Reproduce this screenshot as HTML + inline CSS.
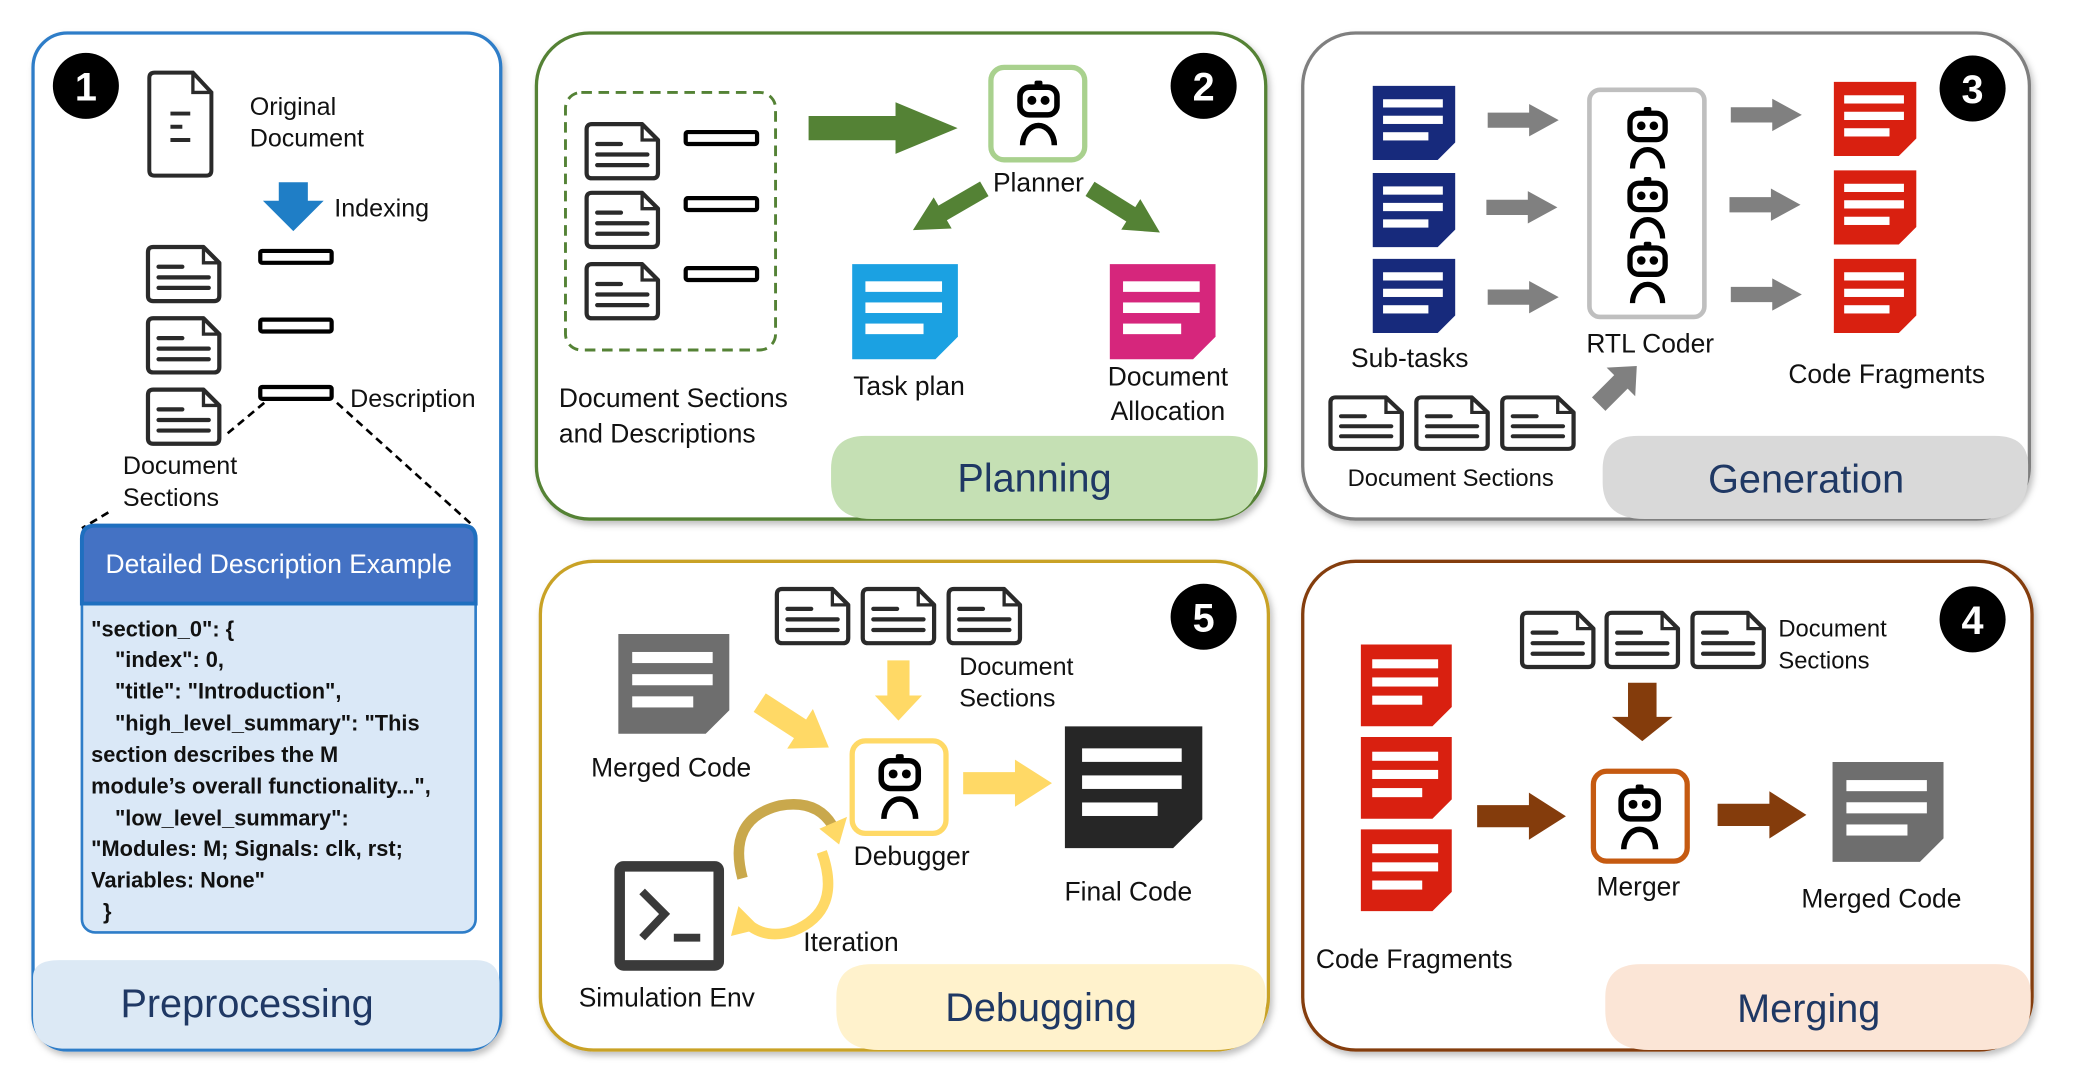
<!DOCTYPE html>
<html><head><meta charset="utf-8"><style>
html,body{margin:0;padding:0;background:#fff;width:2073px;height:1081px;overflow:hidden}
svg{display:block}
text{font-family:"Liberation Sans",sans-serif;fill:#111}
</style></head><body>
<svg width="2073" height="1081" viewBox="0 0 1569 818.5" preserveAspectRatio="none" xmlns="http://www.w3.org/2000/svg">
<defs>
<filter id="sh" x="-5%" y="-5%" width="110%" height="110%"><feDropShadow dx="2" dy="3" stdDeviation="2.5" flood-color="#000" flood-opacity="0.25"/></filter>
<g id="odoc"><path d="M6,2 H44 L56,14 V39 Q56,43 52,43 H6 Q2,43 2,39 V6 Q2,2 6,2 Z" fill="#fff" stroke="#2a2a2a" stroke-width="3.2" stroke-linejoin="round"/><path d="M44,2 V14 H56" fill="none" stroke="#2a2a2a" stroke-width="2.5"/><path d="M10,17 H28 M10,25 H48 M10,33 H48" stroke="#2a2a2a" stroke-width="3.2" stroke-linecap="round"/></g>
<g id="fdoc"><polygon points="0,0 80,0 80,55 63,72 0,72"/><rect x="10" y="13" width="58" height="8" fill="#fff"/><rect x="10" y="29" width="58" height="8" fill="#fff"/><rect x="10" y="45" width="44" height="8" fill="#fff"/></g>
<g id="robot"><rect x="17" y="0" width="6" height="5" rx="1.5" fill="#000"/><rect x="6" y="5" width="28" height="21" rx="7" fill="none" stroke="#000" stroke-width="4.2"/><circle cx="15" cy="15" r="3.4" fill="#000"/><circle cx="25" cy="15" r="3.4" fill="#000"/><path d="M8,49 A12,15 0 0 1 32,49" fill="none" stroke="#000" stroke-width="4.2"/></g>
<path id="arr" d="M0,-8 H28 V-17 L48,0 L28,17 V8 H0 Z"/>
<g id="bar"><rect x="0" y="0" width="54" height="9" rx="1.5" fill="#fff" stroke="#000" stroke-width="3.2"/></g>
</defs>

<!-- ===== Panel 1 ===== -->
<rect x="25" y="25" width="354" height="770" rx="26" fill="#fff" stroke="#2e7dc8" stroke-width="2.5" filter="url(#sh)"/>
<path d="M25,740 Q25,727 45,727 H360 Q378,727 378,745 V770 Q378,794 354,794 H50 Q25,794 25,770 Z" fill="#dce9f5"/>
<text x="187" y="770" font-size="30" text-anchor="middle" style="fill:#1f3864">Preprocessing</text>
<circle cx="65" cy="65" r="25" fill="#000"/><text x="65" y="76" font-size="30" font-weight="bold" text-anchor="middle" style="fill:#fff">1</text>
<path d="M117,55 H146 L160,70 V129 Q160,133 156,133 H117 Q113,133 113,129 V59 Q113,55 117,55 Z" fill="#fff" stroke="#2a2a2a" stroke-width="3"/>
<path d="M146,55 V70 H160" fill="none" stroke="#2a2a2a" stroke-width="2.5"/>
<path d="M129,86 H144 M129,96 H138 M129,106 H144" stroke="#2a2a2a" stroke-width="3"/>
<text x="189" y="87" font-size="19">Original</text><text x="189" y="111" font-size="19">Document</text>
<polygon points="211,138 233,138 233,152 245,152 222,175 199,152 211,152" fill="#1f7ec6"/>
<text x="253" y="164" font-size="19">Indexing</text>
<use href="#odoc" x="110" y="185"/><use href="#odoc" x="110" y="239"/><use href="#odoc" x="110" y="293"/>
<use href="#bar" x="197" y="190"/><use href="#bar" x="197" y="242"/><use href="#bar" x="197" y="293"/>
<text x="265" y="308" font-size="19">Description</text>
<text x="93" y="359" font-size="19">Document</text><text x="93" y="383" font-size="19">Sections</text>
<path d="M200,305 L170,330 M255,305 L358,398 M82,388 L62,400" stroke="#000" stroke-width="2" stroke-dasharray="6,4" fill="none"/>
<rect x="62" y="398" width="298" height="308" rx="10" fill="#dae8f7" stroke="#2e7dc8" stroke-width="2"/>
<path d="M62,457 V408 Q62,398 72,398 H350 Q360,398 360,408 V457 Z" fill="#4472c4" stroke="#1f6fbf" stroke-width="3"/>
<text x="211" y="434" font-size="20" text-anchor="middle" style="fill:#fff">Detailed Description Example</text>
<g font-size="16.5" font-weight="bold">
<text x="69" y="482">"section_0": {</text>
<text x="87" y="505">"index": 0,</text>
<text x="87" y="529">"title": "Introduction",</text>
<text x="87" y="553">"high_level_summary": "This</text>
<text x="69" y="577">section describes the M</text>
<text x="69" y="601">module’s overall functionality...",</text>
<text x="87" y="625">"low_level_summary":</text>
<text x="69" y="648">"Modules: M; Signals: clk, rst;</text>
<text x="69" y="672">Variables: None"</text>
<text x="78" y="696">}</text>
</g>

<!-- ===== Panel 2 ===== -->
<rect x="406" y="25" width="552" height="368" rx="40" fill="#fff" stroke="#548235" stroke-width="2.5" filter="url(#sh)"/>
<path d="M629,355 Q629,330 655,330 H930 Q952,330 952,350 V360 Q952,393 915,393 H660 Q629,393 629,365 Z" fill="#c5e0b4"/>
<text x="783" y="372" font-size="30" text-anchor="middle" style="fill:#1f3864">Planning</text>
<rect x="428" y="70" width="159" height="195" rx="12" fill="none" stroke="#548235" stroke-width="2.2" stroke-dasharray="8,5"/>
<use href="#odoc" x="442" y="92"/><use href="#odoc" x="442" y="144"/><use href="#odoc" x="442" y="198"/>
<use href="#bar" x="519" y="100"/><use href="#bar" x="519" y="150"/><use href="#bar" x="519" y="203"/>
<text x="423" y="308" font-size="20">Document Sections</text><text x="423" y="335" font-size="20">and Descriptions</text>
<use href="#arr" fill="#548235" transform="translate(612,97) scale(2.35,1.15)"/>
<rect x="750" y="51" width="71" height="70" rx="10" fill="#fff" stroke="#a9d18e" stroke-width="4"/>
<use href="#robot" transform="translate(766,61)"/>
<text x="786" y="145" font-size="20" text-anchor="middle">Planner</text>
<use href="#arr" fill="#548235" transform="translate(745,143) rotate(150) scale(1.3,0.8)"/>
<use href="#arr" fill="#548235" transform="translate(825,143) rotate(32) scale(1.3,0.8)"/>
<circle cx="911" cy="65" r="25" fill="#000"/><text x="911" y="76" font-size="30" font-weight="bold" text-anchor="middle" style="fill:#fff">2</text>
<use href="#fdoc" fill="#1ba1e2" x="645" y="200"/>
<use href="#fdoc" fill="#d6267c" x="840" y="200"/>
<text x="688" y="299" font-size="20" text-anchor="middle">Task plan</text>
<text x="884" y="292" font-size="20" text-anchor="middle">Document</text><text x="884" y="318" font-size="20" text-anchor="middle">Allocation</text>

<!-- ===== Panel 3 ===== -->
<rect x="986" y="25" width="550" height="368" rx="40" fill="#fff" stroke="#7f7f7f" stroke-width="2.5" filter="url(#sh)"/>
<path d="M1213,355 Q1213,330 1240,330 H1510 Q1535,330 1535,352 V360 Q1535,393 1500,393 H1245 Q1213,393 1213,365 Z" fill="#d9d9d9"/>
<text x="1367" y="373" font-size="30" text-anchor="middle" style="fill:#1f3864">Generation</text>
<use href="#fdoc" fill="#172a7c" transform="translate(1039,65) scale(0.78)"/>
<use href="#fdoc" fill="#172a7c" transform="translate(1039,131) scale(0.78)"/>
<use href="#fdoc" fill="#172a7c" transform="translate(1039,196) scale(0.78)"/>
<use href="#arr" fill="#808080" transform="translate(1126,91) scale(1.12,0.72)"/>
<use href="#arr" fill="#808080" transform="translate(1125,157) scale(1.12,0.72)"/>
<use href="#arr" fill="#808080" transform="translate(1126,225) scale(1.12,0.72)"/>
<rect x="1203" y="68" width="87" height="172" rx="8" fill="#fff" stroke="#bfbfbf" stroke-width="3.5"/>
<use href="#robot" transform="translate(1228,81) scale(0.95)"/>
<use href="#robot" transform="translate(1228,134) scale(0.95)"/>
<use href="#robot" transform="translate(1228,183) scale(0.95)"/>
<use href="#arr" fill="#808080" transform="translate(1310,87) scale(1.12,0.72)"/>
<use href="#arr" fill="#808080" transform="translate(1309,155) scale(1.12,0.72)"/>
<use href="#arr" fill="#808080" transform="translate(1310,223) scale(1.12,0.72)"/>
<use href="#fdoc" fill="#d92010" transform="translate(1388,62) scale(0.78)"/>
<use href="#fdoc" fill="#d92010" transform="translate(1388,129) scale(0.78)"/>
<use href="#fdoc" fill="#d92010" transform="translate(1388,196) scale(0.78)"/>
<circle cx="1493" cy="67" r="25" fill="#000"/><text x="1493" y="78" font-size="30" font-weight="bold" text-anchor="middle" style="fill:#fff">3</text>
<text x="1067" y="278" font-size="20" text-anchor="middle">Sub-tasks</text>
<text x="1249" y="267" font-size="20" text-anchor="middle">RTL Coder</text>
<text x="1428" y="290" font-size="20" text-anchor="middle">Code Fragments</text>
<use href="#arr" fill="#808080" transform="translate(1210,306) rotate(-45) scale(0.85,0.9)"/>
<use href="#odoc" transform="translate(1005,299) scale(1,0.95)"/><use href="#odoc" transform="translate(1070,299) scale(1,0.95)"/><use href="#odoc" transform="translate(1135,299) scale(1,0.95)"/>
<text x="1020" y="368" font-size="18">Document Sections</text>

<!-- ===== Panel 5 ===== -->
<rect x="409" y="425" width="551" height="370" rx="40" fill="#fff" stroke="#c9a227" stroke-width="2.5" filter="url(#sh)"/>
<path d="M633,755 Q633,730 660,730 H930 Q958,730 958,752 V760 Q958,795 920,795 H665 Q633,795 633,765 Z" fill="#fff2cc"/>
<text x="788" y="773" font-size="30" text-anchor="middle" style="fill:#1f3864">Debugging</text>
<use href="#odoc" x="586" y="444"/><use href="#odoc" x="651" y="444"/><use href="#odoc" x="716" y="444"/>
<text x="726" y="511" font-size="19">Document</text><text x="726" y="535" font-size="19">Sections</text>
<use href="#fdoc" fill="#6e6e6e" transform="translate(468,480) scale(1.05)"/>
<text x="508" y="588" font-size="20" text-anchor="middle">Merged Code</text>
<use href="#arr" fill="#ffd966" transform="translate(680,500) rotate(90) scale(0.95,1.05)"/>
<use href="#arr" fill="#ffd966" transform="translate(575,532) rotate(33) scale(1.3,1.05)"/>
<rect x="645" y="561" width="71" height="70" rx="10" fill="#fff" stroke="#ffd966" stroke-width="4"/>
<use href="#robot" transform="translate(661,571)"/>
<text x="690" y="655" font-size="20" text-anchor="middle">Debugger</text>
<use href="#arr" fill="#ffd966" transform="translate(729,593) scale(1.4,1.05)"/>
<use href="#fdoc" fill="#262626" transform="translate(806,550) scale(1.3,1.28)"/>
<text x="854" y="682" font-size="20" text-anchor="middle">Final Code</text>
<rect x="469" y="656" width="75" height="75" rx="3" fill="#fff" stroke="#3a3a3a" stroke-width="8"/>
<path d="M486,675 L503,692 L486,710" fill="none" stroke="#3a3a3a" stroke-width="6"/><path d="M510,710 H530" stroke="#3a3a3a" stroke-width="6"/>
<text x="438" y="762" font-size="20">Simulation Env</text>
<text x="608" y="720" font-size="20">Iteration</text>
<path d="M562,665 Q550,620 590,610 Q618,605 630,625" fill="none" stroke="#c9a84c" stroke-width="8"/>
<polygon points="624,628 638,622 634,636" fill="#ffd966" stroke="#ffd966" stroke-width="4"/>
<path d="M622,645 Q638,690 600,705 Q578,712 563,697" fill="none" stroke="#ffd966" stroke-width="8"/>
<polygon points="560,690 556,706 572,702" fill="#ffd966" stroke="#ffd966" stroke-width="4"/>

<!-- ===== Panel 4 ===== -->
<rect x="986" y="425" width="552" height="370" rx="40" fill="#fff" stroke="#843c0c" stroke-width="2.5" filter="url(#sh)"/>
<path d="M1215,755 Q1215,730 1242,730 H1510 Q1537,730 1537,752 V760 Q1537,795 1500,795 H1248 Q1215,795 1215,765 Z" fill="#fbe5d6"/>
<text x="1369" y="774" font-size="30" text-anchor="middle" style="fill:#1f3864">Merging</text>
<circle cx="1493" cy="469" r="25" fill="#000"/><text x="1493" y="480" font-size="30" font-weight="bold" text-anchor="middle" style="fill:#fff">4</text>
<circle cx="911" cy="467" r="25" fill="#000"/><text x="911" y="478" font-size="30" font-weight="bold" text-anchor="middle" style="fill:#fff">5</text>
<use href="#odoc" x="1150" y="462"/><use href="#odoc" x="1214" y="462"/><use href="#odoc" x="1279" y="462"/>
<text x="1346" y="482" font-size="18">Document</text><text x="1346" y="506" font-size="18">Sections</text>
<use href="#fdoc" fill="#d92010" transform="translate(1030,488) scale(0.86)"/>
<use href="#fdoc" fill="#d92010" transform="translate(1030,558) scale(0.86)"/>
<use href="#fdoc" fill="#d92010" transform="translate(1030,628) scale(0.86)"/>
<text x="996" y="733" font-size="20">Code Fragments</text>
<use href="#arr" fill="#843c0c" transform="translate(1118,618) scale(1.4,1.05)"/>
<use href="#arr" fill="#843c0c" transform="translate(1243,517) rotate(90) scale(0.92,1.35)"/>
<rect x="1206" y="584" width="71" height="68" rx="10" fill="#fff" stroke="#c55a11" stroke-width="4"/>
<use href="#robot" transform="translate(1221,594)"/>
<text x="1240" y="678" font-size="20" text-anchor="middle">Merger</text>
<use href="#arr" fill="#843c0c" transform="translate(1300,617) scale(1.4,1.05)"/>
<use href="#fdoc" fill="#6e6e6e" transform="translate(1387,577) scale(1.05)"/>
<text x="1424" y="687" font-size="20" text-anchor="middle">Merged Code</text>
</svg>
</body></html>
